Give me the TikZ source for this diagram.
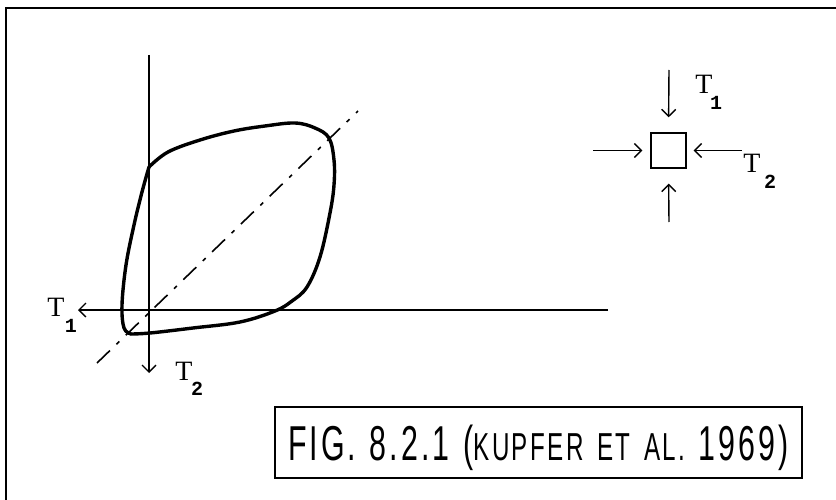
\documentclass[tikz,border=0pt]{standalone}
\usepackage{fontspec}
\setmainfont{Liberation Sans}
\newfontfamily\serifT{Liberation Serif}
\newfontfamily\monoD{Liberation Mono}
\newfontfamily\capfont[LetterSpace=10]{Liberation Sans}
\usetikzlibrary{arrows.meta}
\begin{document}
\begin{tikzpicture}[x=1pt,y=-1pt,
  thinline/.style={line width=1.4pt},
  arr/.style={thinline,-{Straight Barb[length=7pt,width=14pt]}},
  tlab/.style={inner sep=0pt,font=\serifT\fontsize{28}{28}\selectfont},
  slab/.style={inner sep=0pt,font=\monoD\bfseries\fontsize{20}{20}\selectfont},
  loopline/.style={line width=3.4pt,line join=round,line cap=round}]
\useasboundingbox (0,0) rectangle (836,500);
% frame
\coordinate (fbl) at (6,500);
\coordinate (ftl) at (6,8);
\coordinate (ftr) at (836,8);
\draw[line width=2pt] (fbl) -- (ftl) -- (ftr);
% axes
\coordinate (O) at (149,310);
\coordinate (ytop) at (149,55);
\coordinate (ybot) at (149,373);
\coordinate (xright) at (608,310);
\coordinate (xleft) at (78,310);
\draw[thinline] (ytop) -- (O);
\draw[arr] (O) -- (ybot);
\draw[thinline] (xright) -- (O);
\draw[arr] (O) -- (xleft);
% dash-dot diagonal
\coordinate (d1) at (97,363);
\coordinate (d2) at (358,111);
\draw[line width=1.6pt, dash pattern=on 18pt off 9pt on 4pt off 9pt] (d1) -- (d2);
% loop curve
\draw[loopline] plot[smooth, tension=0.6] coordinates {(149,167) (168,152) (200,140) (234,131) (265,126) (295,123) (315,128) (329,138) (334,160) (334,185) (330,213) (320,257) (307,287) (292,301) (275,311) (240,322) (193,328) (150,333) (131,334)};
\draw[loopline] plot[smooth, tension=0.6] coordinates {(131,334) (124,328) (122,305) (126,265) (134,225) (142,192) (149,167)};
% axis labels
\node[tlab] (t1l) at (56,307) {T};
\node[slab] (s1l) at (71,326) {1};
\node[tlab] (t2b) at (184,371) {T};
\node[slab] (s2b) at (197,389) {2};
% stress element
\node[draw, line width=1.3pt, minimum size=35pt, inner sep=0pt] (sq) at (668.5,150.5) {};
\coordinate (atop) at (669,70);
\coordinate (abot) at (669,222);
\coordinate (aleft) at (593,150.5);
\coordinate (aright) at (742,150.5);
\draw[arr, shorten >=15pt] (atop) -- (sq.north);
\draw[arr, shorten >=15pt] (abot) -- (sq.south);
\draw[arr, shorten >=8pt] (aleft) -- (sq.west);
\draw[arr, shorten >=7pt] (aright) -- (sq.east);
\node[tlab] (t1r) at (704,84) {T};
\node[slab] (s1r) at (716,103) {1};
\node[tlab] (t2r) at (752,163) {T};
\node[slab] (s2r) at (770,182) {2};
% caption
\node[draw, thinline, minimum width=527pt, minimum height=71pt, inner sep=0pt,
      text height=35pt, text depth=0pt] (cap) at (538.5,442.5)
  {\scalebox{0.62}[1]{\capfont\fontsize{49}{49}\selectfont\spaceskip=22pt FIG. 8.2.1 ({\fontsize{39}{39}\selectfont\spaceskip=22pt KUPFER ET AL.} 1969)}};
\end{tikzpicture}
\end{document}
